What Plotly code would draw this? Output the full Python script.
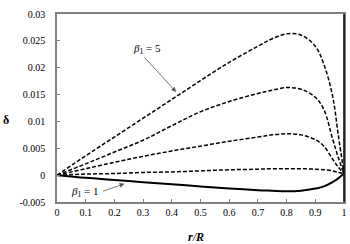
import plotly.graph_objects as go

r = [0, 0.1, 0.2, 0.3, 0.4, 0.5, 0.6, 0.7, 0.75, 0.8, 0.85, 0.9, 0.93, 0.96, 0.98, 1.0]
beta5 = [0, 0.0036, 0.0071, 0.0106, 0.0141, 0.0176, 0.0210, 0.0240, 0.0254, 0.0263, 0.0261, 0.0240, 0.0206, 0.0148, 0.0075, 0.0003]
beta4 = [0, 0.0021, 0.0043, 0.0065, 0.0092, 0.0118, 0.0137, 0.0152, 0.0158, 0.0163, 0.0160, 0.0145, 0.0122, 0.0068, 0.0033, 0.0003]
beta3 = [0, 0.0012, 0.0024, 0.0035, 0.0045, 0.0054, 0.0063, 0.0071, 0.0075, 0.0077, 0.0075, 0.0066, 0.0054, 0.0030, 0.0015, 0.0003]
beta2 = [0, 0.0002, 0.0003, 0.0005, 0.0006, 0.0008, 0.0010, 0.0011, 0.0012, 0.0012, 0.0012, 0.0011, 0.0010, 0.0008, 0.0005, 0.0003]
beta1 = [0, -0.0005, -0.0009, -0.0013, -0.0017, -0.0021, -0.0025, -0.0028, -0.0029, -0.0030, -0.0029, -0.0025, -0.0021, -0.0013, -0.0006, 0.0003]

x_ticks = [0, 0.1, 0.2, 0.3, 0.4, 0.5, 0.6, 0.7, 0.8, 0.9, 1]
x_tick_labels = ["0", "0.1", "0.2", "0.3", "0.4", "0.5", "0.6", "0.7", "0.8", "0.9", "1"]
y_ticks = [-0.005, 0, 0.005, 0.01, 0.015, 0.02, 0.025, 0.03]
y_tick_labels = ["-0.005", "0", "0.005", "0.01", "0.015", "0.02", "0.025", "0.03"]

serif = "Times New Roman"

L, R, T, B = 57, 6, 14, 42
W, H = 350, 244
pw, ph = W - L - R, H - T - B

fig = go.Figure()
for name, ys in [("β1 = 5", beta5), ("β1 = 4", beta4), ("β1 = 3", beta3), ("β1 = 2", beta2)]:
    fig.add_trace(go.Scatter(x=r, y=ys, mode="lines", name=name, line_shape="spline",
                             line=dict(color="black", width=1.5, dash="4px,2px")))
fig.add_trace(go.Scatter(x=r, y=beta1, mode="lines", name="β1 = 1", line_shape="spline",
                         line=dict(color="black", width=2)))

fig.add_annotation(x=0.415, y=0.0155, ax=0.3, ay=0.0222, xref="x", yref="y", axref="x", ayref="y",
                   text="", showarrow=True, arrowhead=2, arrowsize=1.2, arrowwidth=0.8, arrowcolor="#555555")
fig.add_annotation(x=0.3125, y=0.0235, xref="x", yref="y", text="<i>β</i><sub>1</sub> = 5",
                   showarrow=False, font=dict(family=serif, size=11, color="black"))
fig.add_annotation(x=0.235, y=-0.0016, ax=0.155, ay=-0.0031, xref="x", yref="y", axref="x", ayref="y",
                   text="", showarrow=True, arrowhead=2, arrowsize=1.2, arrowwidth=0.8, arrowcolor="#555555")
fig.add_annotation(x=0.097, y=-0.0031, xref="x", yref="y", text="<i>β</i><sub>1</sub> = 1",
                   showarrow=False, font=dict(family=serif, size=11, color="black"))

# axis titles
fig.add_annotation(x=(6 - L) / pw, y=(H - B - 120) / ph, xref="paper", yref="paper", text="<b>δ</b>",
                   showarrow=False, xanchor="center", yanchor="middle",
                   font=dict(family=serif, size=12, color="black"))
fig.add_annotation(x=(196 - L) / pw, y=(H - B - 237) / ph, xref="paper", yref="paper",
                   text="<i><b>r</b>/<b>R</b></i>", showarrow=False, xanchor="center", yanchor="middle",
                   font=dict(family=serif, size=12, color="black"))

fig.add_shape(type="line", xref="paper", yref="paper", x0=1, x1=1, y0=0, y1=1,
              line=dict(color="black", width=1.5))

fig.update_layout(
    width=W, height=H,
    margin=dict(l=L, r=R, t=T, b=B, autoexpand=False),
    plot_bgcolor="white", paper_bgcolor="white",
    showlegend=False,
    font=dict(family=serif, size=10, color="black"),
)
fig.update_xaxes(range=[0, 1], tickvals=x_ticks, ticktext=x_tick_labels, ticks="inside", ticklen=3,
                 tickcolor="#808080", showline=True, linecolor="#808080", linewidth=1.5, mirror=True,
                 showgrid=False, zeroline=False, automargin=False,
                 tickfont=dict(family=serif, size=10, color="black"))
fig.update_yaxes(range=[-0.005, 0.03], tickvals=y_ticks, ticktext=y_tick_labels, ticks="inside", ticklen=3,
                 tickcolor="#808080", showline=True, linecolor="#808080", linewidth=1.5, mirror=True,
                 showgrid=False, zeroline=False, ticklabelstandoff=8, automargin=False,
                 tickfont=dict(family=serif, size=10, color="black"))

fig.write_html("out.html", config={"displayModeBar": False},
               post_script="document.body.style.margin='0';document.body.style.overflow='hidden';")
